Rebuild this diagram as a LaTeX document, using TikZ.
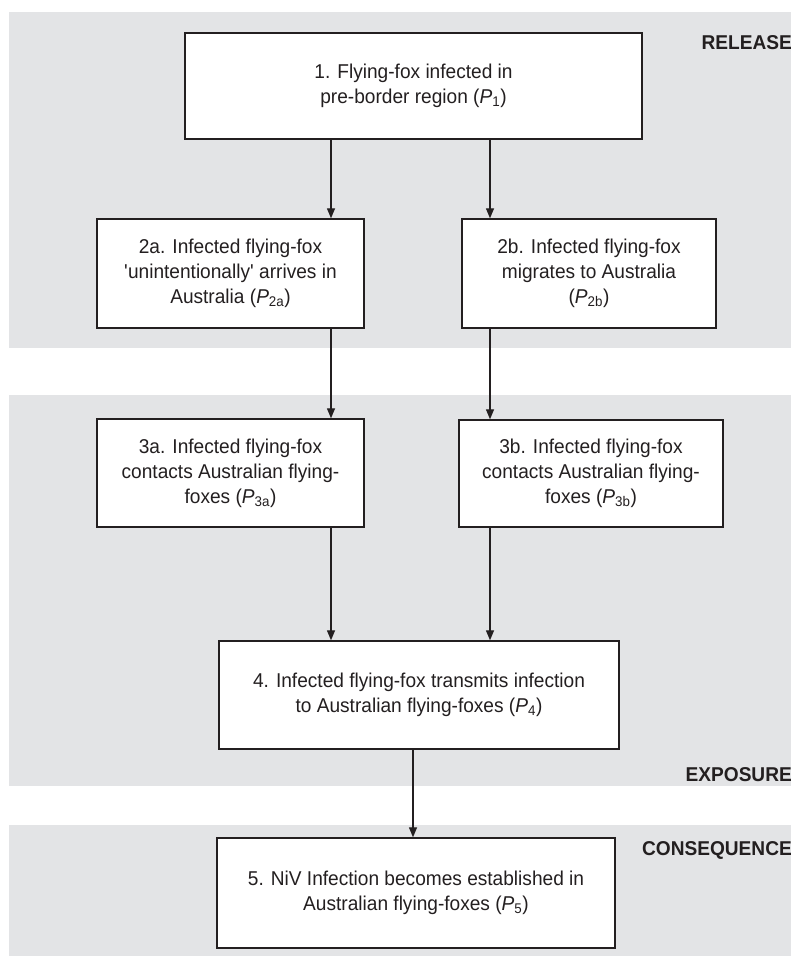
\documentclass[tikz,border=0pt]{standalone}
\usepackage{fontspec}
\setmainfont{Liberation Sans}[FakeStretch=0.955]
\usetikzlibrary{arrows.meta}
\definecolor{band}{RGB}{227,228,230}
\definecolor{ink}{RGB}{35,31,32}
\newcommand{\probP}[1]{(\textit{P}\textsubscript{#1})}
\begin{document}
\begin{tikzpicture}[x=1pt,y=-1pt,
  stepbox/.style={draw=ink, line width=1.4pt, fill=white, align=center, text=ink,
    font=\fontsize{20}{25}\selectfont, inner sep=0pt},
  arr/.style={-{Triangle[width=8pt,length=10pt]}, line width=1.3pt, draw=ink},
  phase/.style={font=\bfseries\fontsize{20}{23}\selectfont, text=ink, anchor=base east, inner sep=0pt}]
\useasboundingbox (0,0) rectangle (790,957);
% bands
\fill[band] (9,12) rectangle (792,348);
\fill[band] (9,395) rectangle (792,786);
\fill[band] (9,825) rectangle (792,956);
% phase labels
\node[phase] (lrel) at (792,50) {RELEASE};
\node[phase] (lexp) at (792,781) {EXPOSURE};
\node[phase] (lcon) at (792,855) {CONSEQUENCE};
% boxes
\node[stepbox, minimum width=457pt, minimum height=106pt] (b1) at (413.5,86)
  {1. Flying-fox infected in\\pre-border region \probP{1}};
\node[stepbox, minimum width=267pt, minimum height=109pt] (b2a) at (230.5,273.5)
  {2a. Infected flying-fox\\\textquotesingle unintentionally\textquotesingle\ arrives in\\Australia \probP{2a}};
\node[stepbox, minimum width=254pt, minimum height=109pt] (b2b) at (589,273.5)
  {2b. Infected flying-fox\\migrates to Australia\\\probP{2b}};
\node[stepbox, minimum width=267pt, minimum height=108pt] (b3a) at (230.5,473)
  {3a. Infected flying-fox\\contacts Australian flying-\\foxes \probP{3a}};
\node[stepbox, minimum width=264pt, minimum height=107pt] (b3b) at (591,473.5)
  {3b. Infected flying-fox\\contacts Australian flying-\\foxes \probP{3b}};
\node[stepbox, minimum width=400pt, minimum height=108pt] (b4) at (419,695)
  {4. Infected flying-fox transmits infection\\to Australian flying-foxes \probP{4}};
\node[stepbox, minimum width=398pt, minimum height=110pt] (b5) at (416,893)
  {5. NiV Infection becomes established in\\Australian flying-foxes \probP{5}};
% connector columns
\coordinate (xa) at (331,0);
\coordinate (xb) at (490,0);
\coordinate (xc) at (413,0);
% arrows
\draw[arr] (b1.south -| xa) -- (b2a.north -| xa);
\draw[arr] (b1.south -| xb) -- (b2b.north -| xb);
\draw[arr] (b2a.south -| xa) -- (b3a.north -| xa);
\draw[arr] (b2b.south -| xb) -- (b3b.north -| xb);
\draw[arr] (b3a.south -| xa) -- (b4.north -| xa);
\draw[arr] (b3b.south -| xb) -- (b4.north -| xb);
\draw[arr] (b4.south -| xc) -- (b5.north -| xc);
\end{tikzpicture}
\end{document}
